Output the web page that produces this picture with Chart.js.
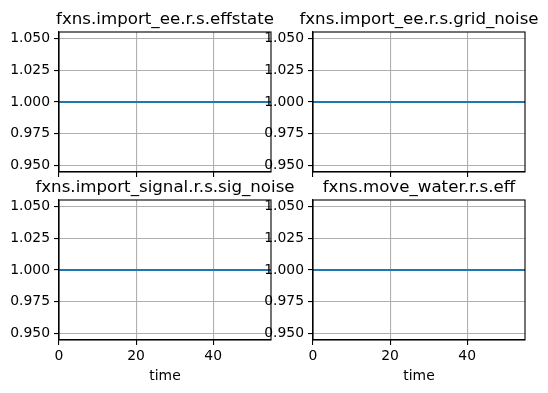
<!DOCTYPE html>
<html>
<head>
<meta charset="utf-8">
<script src="https://cdn.jsdelivr.net/npm/chart.js@4/dist/chart.umd.min.js"></script>
<style>
  body { margin: 0; background: #fff; }
  #wrap { position: relative; width: 548px; height: 393px; overflow: hidden; }
  canvas { position: absolute; }
</style>
</head>
<body>
<div id="wrap"></div>
<script>
// data
const time = [0, 5, 10, 15, 20, 25, 30, 35, 40, 45, 50, 55];
const effstate = [1, 1, 1, 1, 1, 1, 1, 1, 1, 1, 1, 1];
const gridNoise = [1, 1, 1, 1, 1, 1, 1, 1, 1, 1, 1, 1];
const sigNoise = [1, 1, 1, 1, 1, 1, 1, 1, 1, 1, 1, 1];
const waterEff = [1, 1, 1, 1, 1, 1, 1, 1, 1, 1, 1, 1];
const xTicks = [0, 20, 40];
const yTicks = [0.95, 0.975, 1.0, 1.025, 1.05];

const FONT = 'DejaVu Sans';

// title + full spine box (matplotlib style)
const framePlugin = {
  id: 'frame',
  afterDraw(chart, args, opts) {
    const a = chart.chartArea, ctx = chart.ctx;
    ctx.save();
    ctx.strokeStyle = '#000';
    ctx.lineWidth = 1.1;
    ctx.strokeRect(a.left, a.top, a.right - a.left, a.bottom - a.top);
    ctx.fillStyle = '#000';
    ctx.font = '16.67px ' + FONT;
    ctx.textAlign = 'center';
    ctx.textBaseline = 'alphabetic';
    ctx.fillText(opts.text, (a.left + a.right) / 2, a.top - 8.3);
    ctx.restore();
  }
};

function makePlot(title, values, left, top, w, h, showX) {
  const padL = 60, padT = 32, padR = 40;
  const bottomH = showX ? 45 : 14;
  const c = document.createElement('canvas');
  c.width = padL + w + padR;
  c.height = padT + h + bottomH;
  c.style.left = (left - padL) + 'px';
  c.style.top = (top - padT) + 'px';
  document.getElementById('wrap').appendChild(c);

  return new Chart(c, {
    type: 'line',
    data: {
      labels: time,
      datasets: [{
        data: time.map((t, i) => ({ x: t, y: values[i] })),
        borderColor: '#1f77b4',
        borderWidth: 2.1,
        pointRadius: 0,
        fill: false,
        tension: 0
      }]
    },
    options: {
      responsive: false,
      devicePixelRatio: 1,
      animation: false,
      events: [],
      layout: { autoPadding: false, padding: { top: padT, right: padR, left: 0, bottom: 0 } },
      plugins: {
        legend: { display: false },
        tooltip: { enabled: false },
        frame: { text: title }
      },
      scales: {
        x: {
          type: 'linear',
          min: 0,
          max: 55,
          afterBuildTicks: s => { s.ticks = xTicks.map(v => ({ value: v })); },
          afterFit: s => { s.height = bottomH; },
          grid: { color: '#b0b0b0', lineWidth: 1.1, tickColor: '#000', tickWidth: 1.1, tickLength: 5 },
          border: { display: true, color: '#000', width: 1.1 },
          ticks: {
            display: showX,
            color: '#000',
            padding: 3,
            maxRotation: 0,
            font: { family: FONT, size: 13.9 },
            callback: v => String(v)
          },
          title: {
            display: showX,
            text: 'time',
            color: '#000',
            font: { family: FONT, size: 13.9 },
            padding: { top: 0, bottom: 0 }
          }
        },
        y: {
          type: 'linear',
          min: 0.945,
          max: 1.055,
          afterBuildTicks: s => { s.ticks = yTicks.map(v => ({ value: v })); },
          afterFit: s => { s.width = padL; },
          grid: { color: '#b0b0b0', lineWidth: 1.1, tickColor: '#000', tickWidth: 1.1, tickLength: 5 },
          border: { display: true, color: '#000', width: 1.1 },
          ticks: {
            color: '#000',
            padding: 4,
            font: { family: FONT, size: 13.9 },
            callback: v => v.toFixed(3)
          }
        }
      }
    },
    plugins: [framePlugin]
  });
}

makePlot('fxns.import_ee.r.s.effstate', effstate, 59, 32, 212, 140, false);
makePlot('fxns.import_ee.r.s.grid_noise', gridNoise, 313, 32, 212, 140, false);
makePlot('fxns.import_signal.r.s.sig_noise', sigNoise, 59, 200, 212, 140, true);
makePlot('fxns.move_water.r.s.eff', waterEff, 313, 200, 212, 140, true);
</script>
</body>
</html>
